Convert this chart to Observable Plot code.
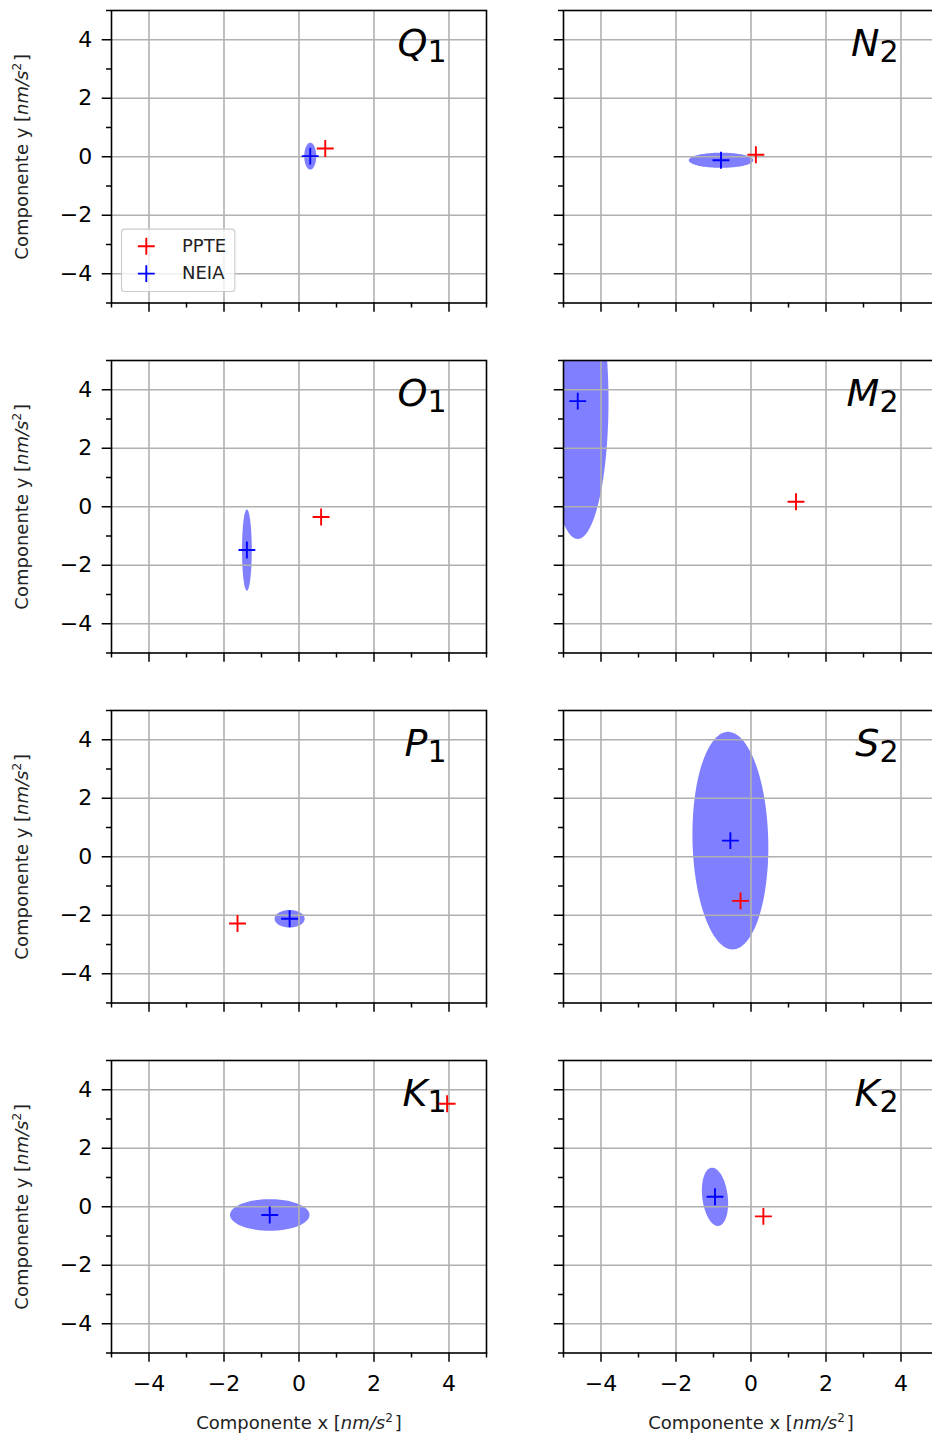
<!DOCTYPE html>
<html>
<head>
<meta charset="utf-8">
<script src="https://cdn.jsdelivr.net/npm/d3@7"></script>
<script src="https://cdn.jsdelivr.net/npm/@observablehq/plot@0.6"></script>
<style>
  html, body { margin: 0; padding: 0; background: white; overflow: hidden; }
  #chart { position: relative; width: 932px; height: 1434px; overflow: hidden; background: white; }
  #chart svg { position: absolute; }
</style>
</head>
<body>
<div id="chart"></div>
<script>
// ---------------- DATA ----------------
const constituents = ["Q1", "N2", "O1", "M2", "P1", "S2", "K1", "K2"];
const seriesNames = ["PPTE", "NEIA"];
// PPTE estimates (x, y components, nm/s^2)
const ppteX = [0.70, 0.13, 0.59, 1.20, -1.64, -0.28, 3.95, 0.33];
const ppteY = [0.28, 0.07, -0.35, 0.17, -2.28, -1.51, 3.52, -0.33];
// NEIA estimates
const neiaX = [0.30, -0.80, -1.39, -4.62, -0.25, -0.55, -0.78, -0.96];
const neiaY = [0.02, -0.12, -1.48, 3.61, -2.12, 0.55, -0.28, 0.34];
// NEIA uncertainty ellipses: semi-axes along x and y, rotation (degrees)
const ellSemiX = [0.16, 0.86, 0.13, 0.82, 0.40, 1.01, 1.06, 0.34];
const ellSemiY = [0.46, 0.26, 1.39, 4.71, 0.30, 3.72, 0.54, 1.00];
const ellAngle = [0, 0, 0, 0, 0, 1, 0, 5];
const majorTicks = [-4, -2, 0, 2, 4];
const minorTicks = [-5, -3, -1, 1, 3, 5];
const xLabel = "Componente x [nm/s2]";
const yLabel = "Componente y [nm/s2]";

// ---------------- LAYOUT ----------------
const FRAME_LEFT = [111.2, 562.5];
const FRAME_TOP0 = 10, ROW_STEP = 350;
const FW = 375, FH = 292.5;
const ML = 112, MR = 12, MT = 12, MB = 84;
const COLORS = {PPTE: "red", NEIA: "blue"};
const SUB_SIZE = 30, TITLE_SIZE = 38;

const fmt = d => d < 0 ? "\u2212" + (-d) : String(d);
const blank = () => "";

function ellipsePoints(cx, cy, a, b, deg) {
  const t = deg * Math.PI / 180;
  return d3.range(0, 361, 3).map(k => {
    const u = k * Math.PI / 180;
    const ex = a * Math.cos(u), ey = b * Math.sin(u);
    return {x: cx + ex * Math.cos(t) - ey * Math.sin(t), y: cy + ex * Math.sin(t) + ey * Math.cos(t)};
  });
}

function enrich(svg) {
  svg.querySelectorAll("text").forEach(t => {
    const s = t.textContent;
    let m = s.match(/^([A-Z])(\d)$/);
    if (m) {
      t.innerHTML = `<tspan font-style="italic">${m[1]}</tspan><tspan font-size="${SUB_SIZE}" dy="6.7">${m[2]}</tspan>`;
      return;
    }
    m = s.match(/^Componente ([xy]) \[nm\/s2\]$/);
    if (m) {
      t.innerHTML = `Componente ${m[1]} [<tspan font-style="italic">nm/s</tspan><tspan font-size="12" dy="-7">2</tspan><tspan dy="7" dx="2">]</tspan>`;
    }
  });
}

const chart = document.getElementById("chart");
const nRows = Math.ceil(constituents.length / 2);

constituents.forEach((name, i) => {
  const row = Math.floor(i / 2), col = i % 2;
  const isLeft = col === 0, isBottom = row === nRows - 1;
  const ell = ellipsePoints(neiaX[i], neiaY[i], ellSemiX[i], ellSemiY[i], ellAngle[i]);
  const pts = [
    {series: "PPTE", x: ppteX[i], y: ppteY[i]},
    {series: "NEIA", x: neiaX[i], y: neiaY[i]}
  ];

  const marks = [
    Plot.line(ell, {x: "x", y: "y", fill: "blue", fillOpacity: 0.5, stroke: "none", clip: true}),
    Plot.gridX(majorTicks, {stroke: "#b0b0b0", strokeOpacity: 1, strokeWidth: 1.6}),
    Plot.gridY(majorTicks, {stroke: "#b0b0b0", strokeOpacity: 1, strokeWidth: 1.6}),
    Plot.axisX({ticks: majorTicks, tickSize: 9.3, tickPadding: 13, strokeWidth: 1.5, fontSize: 22,
                tickFormat: isBottom ? fmt : blank, label: null}),
    Plot.axisX({ticks: minorTicks, tickSize: 5, strokeWidth: 1.5, tickFormat: blank, label: null}),
    Plot.axisY({ticks: majorTicks, tickSize: 9.3, tickPadding: 10, strokeWidth: 1.5, fontSize: 22,
                tickFormat: isLeft ? fmt : blank, label: null}),
    Plot.axisY({ticks: minorTicks, tickSize: 5, strokeWidth: 1.5, tickFormat: blank, label: null}),
    Plot.frame({stroke: "black", strokeWidth: 1.6}),
    Plot.text([name], {text: d => d, frameAnchor: "top-right", textAnchor: "end", lineAnchor: "bottom",
                       dx: -40, dy: 45, fontSize: TITLE_SIZE, fill: "black"}),
    Plot.dot(pts, {x: "x", y: "y", symbol: "plus", stroke: d => COLORS[d.series], r: 5.5, strokeWidth: 1.9})
  ];

  if (i === 0) {
    marks.push(
      () => {
        const r = document.createElementNS("http://www.w3.org/2000/svg", "rect");
        r.setAttribute("x", ML + 10.5); r.setAttribute("y", MT + FH - 73.4);
        r.setAttribute("width", 113.3); r.setAttribute("height", 62.4);
        r.setAttribute("rx", 3); r.setAttribute("fill", "white"); r.setAttribute("fill-opacity", 0.8);
        r.setAttribute("stroke", "#cccccc"); r.setAttribute("stroke-width", 1.2);
        return r;
      }
    );
    seriesNames.forEach((s, k) => {
      marks.push(
        Plot.dot([s], {frameAnchor: "bottom-left", dx: 34.8, dy: -56.7 + 27.3 * k, symbol: "plus",
                       stroke: COLORS[s], r: 5.5, strokeWidth: 1.9}),
        Plot.text([s], {text: d => d, frameAnchor: "bottom-left", dx: 70.5, dy: -56.7 + 27.3 * k,
                        textAnchor: "start", lineAnchor: "middle", fontSize: 18, fill: "#222"})
      );
    });
  }
  if (isBottom) {
    marks.push(Plot.text([xLabel], {text: d => d, frameAnchor: "bottom", dy: 76, lineAnchor: "bottom",
                                    textAnchor: "middle", fontSize: 18, fill: "#222"}));
  }
  if (isLeft) {
    marks.push(Plot.text([yLabel], {text: d => d, frameAnchor: "left", dx: -89, rotate: -90,
                                    lineAnchor: "middle", textAnchor: "middle", fontSize: 18, fill: "#222"}));
  }

  const svg = Plot.plot({
    width: ML + FW + MR,
    height: MT + FH + MB,
    marginLeft: ML, marginRight: MR, marginTop: MT, marginBottom: MB,
    x: {domain: [-5, 5]},
    y: {domain: [-5, 5]},
    style: {fontFamily: "DejaVu Sans", fontSize: "22px", background: "transparent", color: "black", overflow: "visible"},
    marks
  });
  enrich(svg);
  svg.style.left = (FRAME_LEFT[col] - ML) + "px";
  svg.style.top = (FRAME_TOP0 + ROW_STEP * row - MT) + "px";
  svg.style.maxWidth = "none";
  chart.appendChild(svg);
});
</script>
</body>
</html>
